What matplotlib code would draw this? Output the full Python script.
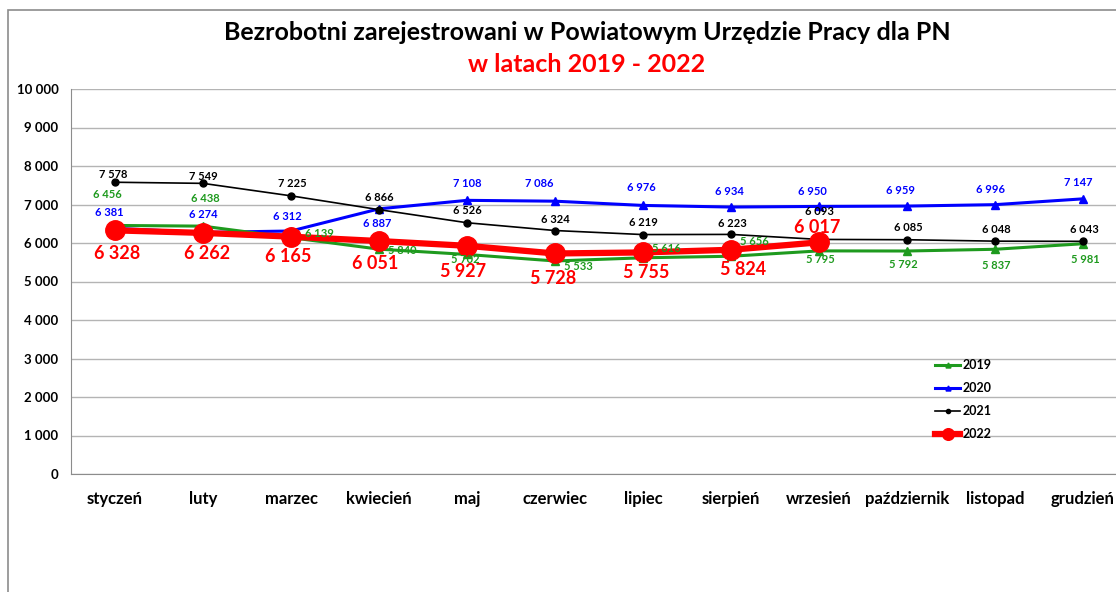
import matplotlib
matplotlib.use('Agg')
import matplotlib.pyplot as plt
from matplotlib.patches import Rectangle
from matplotlib.ticker import FuncFormatter

plt.rcParams['font.family'] = ['Lato', 'DejaVu Sans']

months = ['styczeń', 'luty', 'marzec', 'kwiecień', 'maj', 'czerwiec', 'lipiec',
          'sierpień', 'wrzesień', 'październik', 'listopad', 'grudzień']
v2019 = [6456, 6438, 6139, 5840, 5702, 5533, 5616, 5656, 5795, 5792, 5837, 5981]
v2020 = [6381, 6274, 6312, 6887, 7108, 7086, 6976, 6934, 6950, 6959, 6996, 7147]
v2021 = [7578, 7549, 7225, 6866, 6526, 6324, 6219, 6223, 6093, 6085, 6048, 6043]
v2022 = [6328, 6262, 6165, 6051, 5927, 5728, 5755, 5824, 6017]

# label offsets in pixels (dx, dy up) so numbers sit where the original had them
off2019 = [(-8, 31), (2, 28), (28, 4), (23, -1), (-2, -5), (23, -6), (23, 9),
           (23, 15), (1, -9), (-4, -13), (1, -16), (2, -16)]
off2020 = [(-6, 16), (0, 18), (-4, 14), (-2, -15), (0, 17), (-16, 18), (-2, 18),
           (-2, 16), (-7, 15), (-6, 16), (-5, 15), (-5, 16)]
off2021 = [(-2, 8), (0, 7), (1, 12), (0, 12), (0, 12), (0, 11), (0, 12),
           (1, 11), (0, 28), (1, 12), (1, 12), (1, 12)]
off2022 = [(2, -23), (4, -21), (-3, -20), (-4, -22), (-4, -26), (-2, -25),
           (3, -20), (12, -20), (-2, 15)]

green = '#1e9a1e'
blue = '#0000ff'
red = '#ff0000'

fig = plt.figure(figsize=(11.16, 5.92), dpi=100)
fig.add_artist(Rectangle((8 / 1116, -0.1), 1.2, 0.1 + 582 / 592,
                         transform=fig.transFigure, fill=False,
                         edgecolor='#8c8c8c', linewidth=1.2))

ax = fig.add_axes([71 / 1116, 118 / 592, 1056 / 1116, 385 / 592])
x = list(range(len(months)))

ax.plot(x, v2020, color=blue, lw=2.2, marker='^', ms=6, label='2020', zorder=3)
ax.plot(x, v2019, color=green, lw=2.2, marker='^', ms=6, label='2019', zorder=4)
ax.plot(x, v2021, color='black', lw=1.2, marker='o', ms=5, label='2021', zorder=5)
ax.plot(x[:len(v2022)], v2022, color=red, lw=4.5, marker='o', ms=14, label='2022', zorder=6)

def put(vals, offs, color, size):
    for i, (v, o) in enumerate(zip(vals, offs)):
        ax.annotate(f"{v:,}".replace(',', ' '), (x[i], v), xytext=o,
                    textcoords='offset pixels', ha='center', va='center',
                    color=color, fontsize=size, fontweight='bold', zorder=7)

put(v2019, off2019, green, 8)
put(v2020, off2020, blue, 8)
put(v2021, off2021, 'black', 8)
put(v2022, off2022, red, 13)

ax.set_xlim(-0.5, 11.5)
ax.set_ylim(0, 10000)
ax.set_yticks(range(0, 10001, 1000))
ax.yaxis.set_major_formatter(FuncFormatter(lambda v, p: f"{v:,.0f}".replace(',', ' ')))
ax.set_xticks(x)
ax.set_xticklabels(months)
ax.tick_params(axis='y', length=0, pad=9, labelsize=9.5)
ax.tick_params(axis='x', length=0, pad=12, labelsize=12)
for t in ax.get_xticklabels() + ax.get_yticklabels():
    t.set_fontweight('bold')

ax.grid(axis='y', color='#b4b4b4', lw=1)
ax.set_axisbelow(True)
for s in ['top', 'right']:
    ax.spines[s].set_visible(False)
for s in ['left', 'bottom']:
    ax.spines[s].set_color('#8c8c8c')

fig.text(587 / 1116, 1 - 33 / 592, 'Bezrobotni zarejestrowani w Powiatowym Urzędzie Pracy dla PN',
         ha='center', va='center', fontsize=18, fontweight='bold')
fig.text(587 / 1116, 1 - 64 / 592, 'w latach 2019 - 2022',
         ha='center', va='center', fontsize=18, fontweight='bold', color=red)

h, l = ax.get_legend_handles_labels()
order = [1, 0, 2, 3]
leg = fig.legend([h[i] for i in order], [l[i] for i in order],
                 loc='upper left', bbox_to_anchor=(924 / 1116, 1 - 348 / 592),
                 frameon=False, fontsize=9, handlelength=2.0, handletextpad=0.15,
                 labelspacing=0.88, markerscale=0.6)
for t in leg.get_texts():
    t.set_fontweight('bold')

fig.savefig('out.png', dpi=100)
